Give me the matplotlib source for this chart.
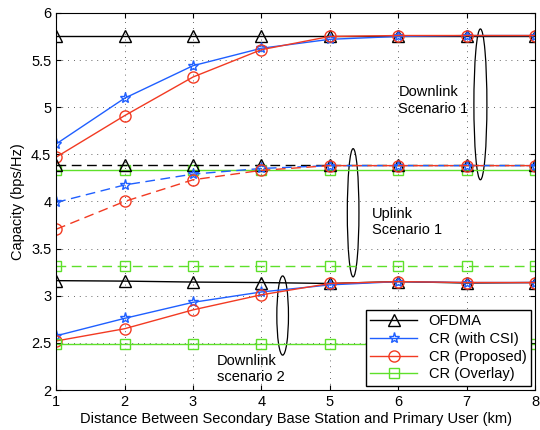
import matplotlib
matplotlib.use("Agg")
import matplotlib.pyplot as plt
from matplotlib.patches import Ellipse

plt.rcParams['font.family'] = ['Liberation Sans', 'DejaVu Sans']

dist = [1, 2, 3, 4, 5, 6, 7, 8]

# downlink scenario 1
ofdma_dl1 = [5.76, 5.76, 5.76, 5.76, 5.76, 5.76, 5.76, 5.76]
csi_dl1 = [4.61, 5.095, 5.44, 5.625, 5.72, 5.75, 5.76, 5.76]
prop_dl1 = [4.47, 4.91, 5.32, 5.61, 5.75, 5.76, 5.76, 5.76]
over_dl1 = [4.33, 4.33, 4.33, 4.33, 4.33, 4.33, 4.33, 4.33]

# uplink scenario 1
ofdma_ul1 = [4.385, 4.385, 4.385, 4.385, 4.385, 4.385, 4.385, 4.385]
csi_ul1 = [3.99, 4.175, 4.29, 4.35, 4.38, 4.38, 4.38, 4.38]
prop_ul1 = [3.705, 4.0, 4.23, 4.33, 4.38, 4.38, 4.38, 4.38]
over_ul1 = [3.32, 3.32, 3.32, 3.32, 3.32, 3.32, 3.32, 3.32]

# downlink scenario 2
ofdma_dl2 = [3.16, 3.155, 3.145, 3.14, 3.13, 3.15, 3.135, 3.14]
csi_dl2 = [2.575, 2.76, 2.93, 3.04, 3.115, 3.15, 3.14, 3.14]
prop_dl2 = [2.52, 2.65, 2.85, 3.01, 3.13, 3.15, 3.14, 3.14]
over_dl2 = [2.485, 2.485, 2.485, 2.485, 2.485, 2.485, 2.485, 2.485]

blue = '#1f5fff'
red = '#f23a22'
green = '#5ee02a'

fig = plt.figure(figsize=(5.4, 4.3), dpi=100)
ax = fig.add_axes([0.104, 0.093, 0.887, 0.877])

mk = dict(markersize=8, markerfacecolor='none', linewidth=1.0)

for ls, o, c, p, g in [('-', ofdma_dl1, csi_dl1, prop_dl1, over_dl1),
                       ('--', ofdma_ul1, csi_ul1, prop_ul1, over_ul1),
                       ('-', ofdma_dl2, csi_dl2, prop_dl2, over_dl2)]:
    dash = dict(dashes=(7, 4)) if ls == '--' else {}
    ax.plot(dist, o, linestyle=ls, marker='^', color='k', markeredgecolor='k', **mk, **dash)
    ax.plot(dist, c, linestyle=ls, marker='*', color=blue, markeredgecolor=blue, **mk, **dash)
    ax.plot(dist, p, linestyle=ls, marker='o', color=red, markeredgecolor=red, **mk, **dash)
    ax.plot(dist, g, linestyle=ls, marker='s', color=green, markeredgecolor=green,
            markersize=7, markerfacecolor='none', linewidth=1.0, **dash)

# legend proxies
ax.plot([], [], '-^', color='k', label='OFDMA', **mk)
ax.plot([], [], '-*', color=blue, label='CR (with CSI)', **mk)
ax.plot([], [], '-o', color=red, label='CR (Proposed)', **mk)
ax.plot([], [], '-s', color=green, label='CR (Overlay)', markersize=7, markerfacecolor='none', linewidth=1.0)
handles, labels = ax.get_legend_handles_labels()
leg = ax.legend(handles[-4:], labels[-4:], loc='lower right', fontsize=10.5,
                fancybox=False, framealpha=1, edgecolor='k',
                handlelength=3.2, borderpad=0.3, labelspacing=0.25,
                borderaxespad=0.3)
leg.get_frame().set_linewidth(1.0)

for (cx, cy, w, h) in [(7.2, 5.03, 0.19, 1.6), (5.34, 3.88, 0.17, 1.36), (4.31, 2.79, 0.17, 0.84)]:
    ax.add_patch(Ellipse((cx, cy), w, h, fill=False, edgecolor='k', linewidth=0.9))

ax.text(6.0, 5.07, 'Downlink\nScenario 1', fontsize=10.5, va='center', ha='left')
ax.text(5.62, 3.78, 'Uplink\nScenario 1', fontsize=10.5, va='center', ha='left')
ax.text(3.35, 2.22, 'Downlink\nscenario 2', fontsize=10.5, va='center', ha='left')

ax.set_xlim(1, 8)
ax.set_ylim(2, 6)
ax.set_xticks(dist)
ax.set_yticks([2, 2.5, 3, 3.5, 4, 4.5, 5, 5.5, 6])
ax.set_yticklabels(['2', '2.5', '3', '3.5', '4', '4.5', '5', '5.5', '6'])
ax.grid(True, linestyle=(0, (1, 6)), color='#333333', linewidth=0.6)
ax.tick_params(direction='in', labelsize=10.5, top=True, right=True)
ax.set_xlabel('Distance Between Secondary Base Station and Primary User (km)', fontsize=10.5, labelpad=2)
ax.set_ylabel('Capacity (bps/Hz)', fontsize=10.5, labelpad=4)

fig.savefig('out.png', dpi=100)
